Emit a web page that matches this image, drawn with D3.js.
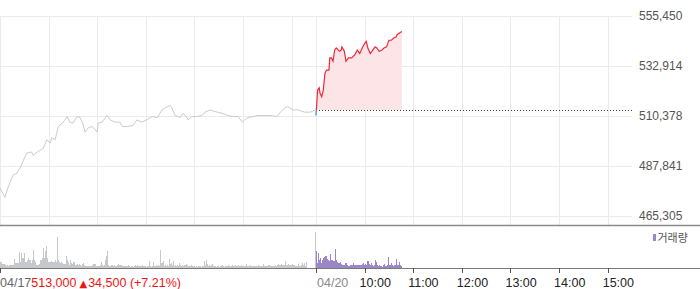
<!DOCTYPE html>
<html><head><meta charset="utf-8">
<script src="https://cdn.jsdelivr.net/npm/d3@7"></script>
<style>
html,body{margin:0;padding:0;background:#fff;}
svg{display:block;font-family:"Liberation Sans",Arial,sans-serif;}
</style></head>
<body><svg id="c" width="700" height="289"></svg>
<script>
// ---- DATA ----
const dayLabels = ["04/17", "04/20"];
const sessionMinutes = 390; // 09:00 - 15:30
const hourLabels = ["10:00", "11:00", "12:00", "13:00", "14:00", "15:00"];
const priceTicks = [465305, 487841, 510378, 532914, 555450];
const refPrice = 513000;
const summaryText = ["513,000", "▲", "34,500 (+7.21%)"];
const legendLabel = "거래량";

// 04/17 (minutes from 09:00, price)
const day1Minutes = [0,6,10,16,21,25,28,33,39,41,46,53,58,62,64,68,72,77,80,83,86,90,95,99,102,105,109,114,120,121,126,132,136,142,148,151,157,164,169,175,181,188,194,200,204,210,212,216,220,222,226,231,232,237,243,249,253,259,268,274,281,288,294,299,302,306,312,318,327,333,342,346,352,355,362,368,376,383,389];
const day1Prices = [478000,473500,478000,483500,484500,487000,489500,493500,494000,492500,494000,495500,499500,498000,500500,499500,505500,507000,508500,510000,507500,507000,510000,509500,507000,503000,505000,505500,503000,507000,507500,510500,508500,507500,507500,505500,505500,506000,508500,507500,508500,510000,509500,513000,514000,515000,514000,510500,510000,509500,511500,509500,508500,510000,510000,510500,512000,513000,512000,511500,510500,510000,510000,507500,508500,509500,510000,510500,510500,510500,510000,512000,514000,514500,513000,513000,512000,512000,513000];

// 04/20 (minutes from 09:00, price)
const day2Minutes = [0,2,4,5,7,9,11,13,16,17,19,21,23,25,29,31,32,35,37,40,44,48,51,54,57,60,62,64,67,70,73,75,78,81,84,87,90,93,96,99,100,104,106];
const day2Prices = [510500,522000,523000,520500,519000,522000,529500,531000,531000,536500,536500,535000,540000,541000,539500,540000,541500,539500,535000,536500,536500,538000,540000,538500,541000,543000,544000,541000,538500,540000,541500,541000,539500,540000,541000,541500,544500,544500,545500,546000,547000,548000,548500];

// volume per bar (thousand shares), bars every 390/316 minutes
const day1Volume = [
6,6,4,4,4,3,2,3,2,3,3,3,3,3,9,5,5,5,5,16,
6,15,10,10,15,6,6,8,10,8,8,5,8,18,8,6,3,3,3,4,
8,8,10,20,10,17,22,10,6,6,6,7,6,6,6,8,6,31,8,6,
5,6,5,4,4,4,12,8,6,3,8,5,4,6,6,3,3,4,3,4,
3,2,4,5,3,2,2,2,2,2,2,2,3,4,4,4,2,2,2,2,
3,6,3,2,3,8,12,17,3,2,2,3,3,2,3,2,2,3,4,3,
3,3,2,2,2,2,2,2,3,2,1,2,2,1,2,3,2,3,2,2,
2,2,3,2,2,2,1,2,2,7,2,1,2,6,2,2,3,2,3,2,
18,5,5,7,2,3,2,3,2,9,4,5,3,7,2,3,2,3,2,5,
3,2,3,2,3,3,4,3,2,2,2,3,2,2,2,1,2,1,2,2,
2,1,2,2,7,3,8,4,2,3,2,3,4,2,2,2,1,2,2,1,
2,2,3,2,1,2,2,2,3,2,2,2,3,2,2,3,2,2,3,2,
2,3,2,2,2,2,4,2,2,2,3,2,2,2,2,2,2,2,3,2,
2,2,2,4,2,2,2,2,3,3,2,2,2,2,2,3,2,3,4,3,
3,4,3,3,3,7,3,3,4,3,3,3,4,3,3,2,2,2,4,2,
2,3,5,3,5,2,6,0,0,0,0,0,0,0,0,36];
const day2Volume = [
17,5,15,8,10,5,8,10,11,12,12,9,8,7,14,8,8,7,7,19,
8,6,5,5,6,4,3,3,3,5,5,3,2,2,3,3,3,5,3,3,
3,3,3,3,3,3,4,5,3,4,3,7,7,4,3,5,3,2,3,8,
6,3,2,3,2,2,1,3,4,2,2,3,11,3,3,5,3,2,3,3,
9,3,3,6,3,2];
const volStep = 390 / 316;

// ---- LAYOUT ----
const svg = d3.select("#c");
const plotL = 0, plotR = 632;
const x = d3.scaleLinear().domain([0, sessionMinutes * 2]).range([plotL, plotR]);
const y = d3.scaleLinear().domain([priceTicks[0], priceTicks[priceTicks.length - 1]]).range([215.5, 16]);
const yv = d3.scaleLinear().domain([0, 42]).range([268, 226]);
const crisp = v => Math.round(v) + 0.5;

// grid
const g = svg.append("g");
g.selectAll("line.h").data(priceTicks).join("line")
  .attr("x1", plotL).attr("x2", plotR)
  .attr("y1", d => crisp(y(d))).attr("y2", d => crisp(y(d)))
  .attr("stroke", "#ebebeb").attr("stroke-width", 1);
const hourTicks = [];
for (let dday = 0; dday < 2; dday++) for (let h = 0; h <= 6; h++) hourTicks.push(dday * sessionMinutes + h * 60);
g.selectAll("line.v").data(hourTicks).join("line")
  .attr("x1", d => crisp(x(d))).attr("x2", d => crisp(x(d)))
  .attr("y1", y(priceTicks[4])).attr("y2", 225)
  .attr("stroke", "#ebebeb").attr("stroke-width", 1);

// price axis labels
svg.append("g").selectAll("text").data(priceTicks).join("text")
  .attr("x", 639).attr("y", d => y(d) + 4.3)
  .attr("font-size", 12).attr("fill", "#555")
  .text(d => d3.format(",")(d));

// day 1 line
const d1 = day1Minutes.map((m, i) => [m, day1Prices[i]]);
const d2 = day2Minutes.map((m, i) => [sessionMinutes + m, day2Prices[i]]);
const line = d3.line().x(d => x(d[0])).y(d => y(d[1]));
svg.append("path").datum(d1).attr("d", line)
  .attr("fill", "none").attr("stroke", "#cbcbcb").attr("stroke-width", 1);

// day 2 fill
const area = d3.area().x(d => x(d[0])).y0(y(refPrice)).y1(d => y(d[1]));
svg.append("path").datum(d2).attr("d", area).attr("fill", "#fde4e7");

// reference dotted line
svg.append("line")
  .attr("x1", x(sessionMinutes)).attr("x2", plotR)
  .attr("y1", crisp(y(refPrice))).attr("y2", crisp(y(refPrice)))
  .attr("stroke", "#444").attr("stroke-width", 1).attr("stroke-dasharray", "1,2");

// day 2 line split above/below ref
const defs = svg.append("defs");
defs.append("clipPath").attr("id", "above").append("rect")
  .attr("x", 0).attr("y", 0).attr("width", 700).attr("height", y(refPrice));
defs.append("clipPath").attr("id", "below").append("rect")
  .attr("x", 0).attr("y", y(refPrice)).attr("width", 700).attr("height", 226 - y(refPrice));
svg.append("path").datum(d2).attr("d", line).attr("clip-path", "url(#above)")
  .attr("fill", "none").attr("stroke", "#f2283a").attr("stroke-width", 1.2);
svg.append("path").datum(d2).attr("d", line).attr("clip-path", "url(#below)")
  .attr("fill", "none").attr("stroke", "#4a8ee6").attr("stroke-width", 1.4);

// panel separator
svg.append("line").attr("x1", 0).attr("x2", 700).attr("y1", 225.5).attr("y2", 225.5)
  .attr("stroke", "#8a8a8a").attr("stroke-width", 1.5);

// volume bars
const vb = svg.append("g").attr("shape-rendering", "crispEdges");
vb.selectAll("rect.a").data(day1Volume).join("rect")
  .attr("x", (d, i) => Math.round(x(i * volStep)))
  .attr("width", 1)
  .attr("y", d => yv(d)).attr("height", d => yv(0) - yv(d))
  .attr("fill", "#c6c8cc");
vb.selectAll("rect.b").data(day2Volume).join("rect")
  .attr("x", (d, i) => Math.round(x(sessionMinutes + i * volStep)))
  .attr("width", 1)
  .attr("y", d => yv(d)).attr("height", d => yv(0) - yv(d))
  .attr("fill", "#9b87c7");

// volume axis line
svg.append("line").attr("x1", 0).attr("x2", 700).attr("y1", 268.5).attr("y2", 268.5)
  .attr("stroke", "#7a7a7a").attr("stroke-width", 1.2);
const axisTicks = [0, sessionMinutes].concat(d3.range(1, 7).map(h => sessionMinutes + h * 60));
svg.append("g").selectAll("line").data(axisTicks).join("line")
  .attr("x1", d => crisp(x(d))).attr("x2", d => crisp(x(d)))
  .attr("y1", 268).attr("y2", 273)
  .attr("stroke", "#555").attr("stroke-width", 1);

// legend
svg.append("rect").attr("x", 653).attr("y", 234).attr("width", 3).attr("height", 7).attr("fill", "#9b87c7");
svg.append("text").attr("x", 657.5).attr("y", 241.5).attr("font-size", 11)
  .attr("font-family", "'Noto Sans CJK KR',sans-serif").attr("fill", "#555").text(legendLabel);

// bottom labels
const t1 = svg.append("text").attr("x", 0).attr("y", 286.5).attr("font-size", 12.5);
t1.append("tspan").attr("fill", "#666").text(dayLabels[0]);
t1.append("tspan").attr("fill", "#f01414").text(summaryText[0]);
t1.append("tspan").attr("fill", "#f01414").attr("font-size", 10).attr("dx", 3)
  .attr("font-family", "'DejaVu Sans',sans-serif").text(summaryText[1]);
t1.append("tspan").attr("fill", "#f01414").attr("dx", 1).text(summaryText[2]);
svg.append("text").attr("x", x(sessionMinutes) + 1).attr("y", 286.5).attr("font-size", 12.5)
  .attr("fill", "#888").text(dayLabels[1]);
svg.append("g").selectAll("text").data(hourLabels).join("text")
  .attr("x", (d, i) => x(sessionMinutes + (i + 1) * 60) - 5).attr("y", 286.5)
  .attr("font-size", 12.5).attr("fill", "#222").text(d => d);
</script></body></html>
